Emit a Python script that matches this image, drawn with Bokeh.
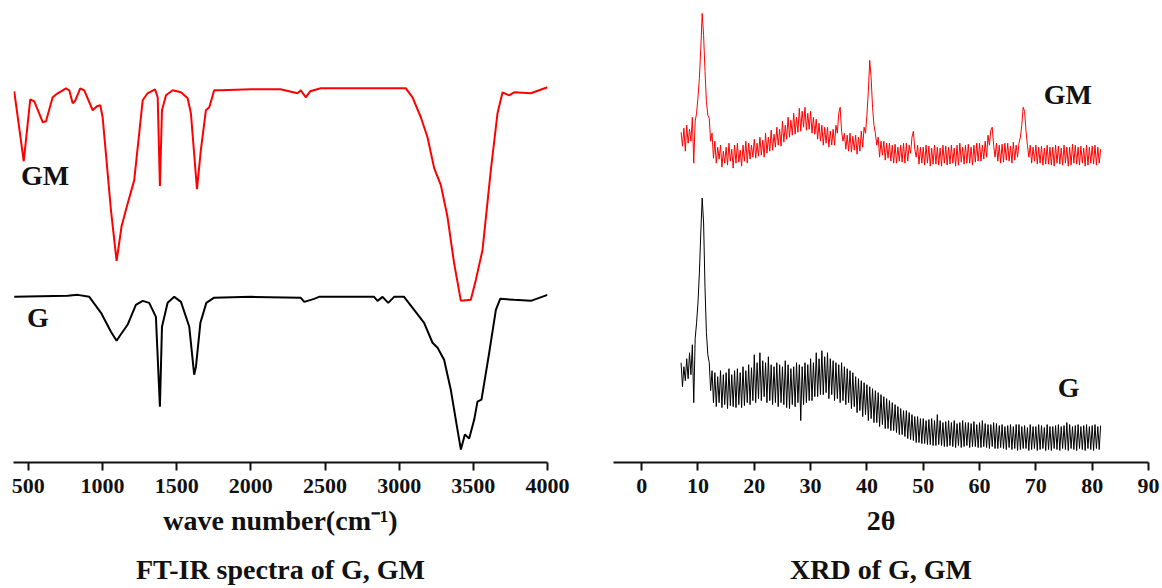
import numpy as np
from bokeh.plotting import figure
from bokeh.layouts import row
from bokeh.models import Range1d, Label, FixedTicker
from bokeh.embed import file_html
from bokeh.resources import INLINE

# ---------------- data ----------------
FTIR_TICKS = [500, 1000, 1500, 2000, 2500, 3000, 3500, 4000]
XRD_TICKS = [0, 10, 20, 30, 40, 50, 60, 70, 80, 90]

# FT-IR, GM (red), wavenumber (cm-1) and transmittance (a.u.)
FTIR_GM_WN = [405, 469, 513, 540, 597, 619, 664, 698, 754, 776, 799, 814, 850, 877, 934, 963, 985,
              1001, 1057, 1095, 1129, 1165, 1214, 1271, 1304, 1354, 1372, 1387, 1401, 1428, 1473,
              1529, 1574, 1596, 1637, 1663, 1697, 1720, 1753, 1800, 2000, 2200, 2315, 2337, 2370,
              2400, 2472, 2700, 3045, 3090, 3146, 3191, 3236, 3281, 3326, 3370, 3416, 3483, 3517,
              3562, 3618, 3663, 3697, 3741, 3775, 3888, 4000]
FTIR_GM_T = [372, 302, 364, 362, 341, 342, 366, 370, 375, 373, 360, 362, 375, 373, 353, 357, 358,
             346, 253, 202, 237, 257, 283, 363, 370, 374, 366, 277, 353, 368, 373,
             371, 365, 350, 274, 313, 353, 356, 373, 373, 374, 374, 370, 373, 366,
             372, 375, 375, 375, 366, 346, 326, 295, 278, 246, 200, 162, 163, 183,
             213, 293, 350, 371, 368, 371, 370, 376]

# FT-IR, G (black)
FTIR_G_WN = [405, 765, 833, 911, 990, 1057, 1095, 1122, 1169, 1225, 1271, 1315, 1360, 1387, 1401,
             1439, 1484, 1529, 1585, 1618, 1630, 1660, 1700, 1750, 2000, 2337, 2360, 2427, 2460,
             2831, 2854, 2888, 2926, 2966, 3033, 3101, 3168, 3225, 3259, 3303, 3348, 3393, 3416,
             3443, 3472, 3506, 3528, 3555, 3607, 3652, 3681, 3775, 3888, 4000]
FTIR_G_T = [166, 167, 168, 166, 150, 131, 122, 128, 138, 158, 162, 160, 146, 56, 136,
            160, 166, 161, 136, 88, 96, 140, 160, 165, 166, 165, 161, 164, 166,
            166, 162, 166, 160, 166, 166, 153, 140, 120, 115, 103, 73, 33, 13,
            28, 24, 43, 61, 63, 110, 153, 164, 163, 162, 168]

# XRD, sampled every 0.25 degree 2-theta from 7.0 to 81.5 (one row = one degree)
XRD_2THETA = np.round(np.arange(7.0, 81.75, 0.25), 2)
XRD_GM = [
    331, 317, 335, 312,   # 7
    338, 320, 334, 322,   # 8
    346, 300, 342, 350,   # 9
    366, 385, 415, 450,   # 10
    428, 392, 362, 348,   # 11
    345, 322, 330, 305,   # 12
    322, 300, 316, 304,   # 13
    318, 296, 312, 300,   # 14
    316, 298, 320, 302,   # 15
    314, 295, 318, 300,   # 16
    320, 301, 313, 297,   # 17
    318, 302, 322, 300,   # 18
    320, 304, 318, 306,   # 19
    324, 305, 320, 307,   # 20
    326, 308, 323, 306,   # 21
    330, 310, 326, 312,   # 22
    333, 313, 329, 316,   # 23
    336, 318, 334, 317,   # 24
    342, 321, 338, 324,   # 25
    346, 326, 343, 328,   # 26
    350, 329, 346, 331,   # 27
    355, 332, 352, 336,   # 28
    356, 333, 350, 334,   # 29
    352, 330, 346, 329,   # 30
    344, 324, 340, 322,   # 31
    338, 318, 336, 320,   # 32
    336, 316, 332, 318,   # 33
    334, 318, 338, 330,   # 34
    350, 356, 332, 322,   # 35
    330, 314, 328, 312,   # 36
    330, 311, 327, 313,   # 37
    328, 309, 326, 312,   # 38
    332, 316, 336, 330,   # 39
    348, 372, 403, 385,   # 40
    356, 338, 330, 318,   # 41
    326, 306, 322, 308,   # 42
    322, 303, 320, 305,   # 43
    320, 302, 318, 300,   # 44
    319, 300, 316, 302,   # 45
    318, 301, 320, 300,   # 46
    320, 302, 318, 310,   # 47
    326, 332, 314, 306,   # 48
    318, 299, 316, 300,   # 49
    316, 298, 318, 300,   # 50
    317, 297, 315, 299,   # 51
    318, 299, 316, 298,   # 52
    315, 297, 318, 300,   # 53
    317, 298, 316, 299,   # 54
    318, 300, 315, 297,   # 55
    318, 298, 320, 301,   # 56
    316, 299, 318, 300,   # 57
    319, 300, 316, 298,   # 58
    318, 301, 320, 302,   # 59
    320, 302, 318, 304,   # 60
    322, 306, 328, 318,   # 61
    333, 336, 318, 306,   # 62
    320, 302, 318, 300,   # 63
    319, 301, 320, 303,   # 64
    320, 302, 317, 300,   # 65
    321, 303, 318, 306,   # 66
    320, 326, 338, 356,   # 67
    352, 332, 318, 306,   # 68
    318, 300, 316, 302,   # 69
    318, 299, 316, 300,   # 70
    317, 298, 315, 299,   # 71
    318, 299, 316, 298,   # 72
    316, 297, 318, 300,   # 73
    317, 299, 315, 298,   # 74
    318, 300, 316, 297,   # 75
    316, 298, 319, 300,   # 76
    318, 299, 316, 298,   # 77
    317, 300, 315, 297,   # 78
    318, 298, 316, 300,   # 79
    317, 299, 318, 298,   # 80
    316, 300, 314,        # 81
]
XRD_G = [
    100, 76, 96, 82,      # 7
    104, 84, 110, 88,     # 8
    118, 60, 124, 140,    # 9
    160, 190, 230, 265,   # 10
    240, 175, 130, 108,   # 11
    100, 72, 92, 60,      # 12
    90, 56, 86, 60,       # 13
    92, 55, 88, 58,       # 14
    90, 54, 94, 57,       # 15
    88, 56, 92, 55,       # 16
    94, 58, 90, 55,       # 17
    96, 57, 92, 60,       # 18
    98, 58, 95, 62,       # 19
    108, 60, 100, 64,     # 20
    110, 62, 102, 66,     # 21
    100, 60, 106, 62,     # 22
    98, 58, 96, 60,       # 23
    100, 56, 98, 60,      # 24
    96, 58, 102, 55,      # 25
    98, 54, 94, 58,       # 26
    96, 56, 100, 60,      # 27
    98, 42, 96, 58,       # 28
    100, 60, 98, 62,      # 29
    104, 62, 100, 66,     # 30
    110, 66, 104, 68,     # 31
    112, 68, 106, 70,     # 32
    110, 64, 104, 68,     # 33
    102, 62, 100, 64,     # 34
    98, 60, 100, 62,      # 35
    96, 58, 94, 60,       # 36
    92, 54, 90, 56,       # 37
    86, 50, 84, 52,       # 38
    82, 46, 80, 48,       # 39
    78, 42, 76, 44,       # 40
    74, 40, 72, 40,       # 41
    70, 36, 68, 38,       # 42
    66, 34, 64, 34,       # 43
    62, 32, 60, 32,       # 44
    58, 30, 56, 28,       # 45
    54, 28, 52, 26,       # 46
    52, 24, 50, 23,       # 47
    48, 22, 46, 20,       # 48
    46, 20, 44, 19,       # 49
    44, 19, 42, 18,       # 50
    43, 18, 44, 17,       # 51
    42, 17, 48, 18,       # 52
    42, 17, 40, 16,       # 53
    41, 16, 42, 17,       # 54
    40, 16, 42, 15,       # 55
    39, 17, 40, 15,       # 56
    42, 16, 40, 17,       # 57
    40, 15, 39, 16,       # 58
    41, 16, 38, 15,       # 59
    40, 15, 42, 16,       # 60
    39, 15, 38, 14,       # 61
    38, 16, 40, 14,       # 62
    39, 14, 37, 15,       # 63
    38, 14, 36, 13,       # 64
    37, 15, 38, 13,       # 65
    36, 14, 38, 12,       # 66
    38, 13, 36, 14,       # 67
    37, 14, 35, 12,       # 68
    38, 13, 36, 14,       # 69
    36, 12, 38, 13,       # 70
    37, 14, 35, 12,       # 71
    38, 13, 36, 12,       # 72
    36, 14, 37, 13,       # 73
    38, 12, 36, 14,       # 74
    37, 13, 40, 12,       # 75
    38, 14, 36, 13,       # 76
    37, 12, 38, 14,       # 77
    36, 13, 37, 12,       # 78
    38, 14, 36, 13,       # 79
    37, 12, 38, 14,       # 80
    36, 13, 37,           # 81
]

FONT = "Liberation Serif"
INK = "#111111"


def style_axis(ax, ticks, label):
    ax.ticker = FixedTicker(ticks=ticks)
    ax.axis_label = label
    ax.axis_line_width = 2
    ax.axis_line_color = INK
    ax.major_tick_line_width = 2
    ax.major_tick_line_color = INK
    ax.major_tick_out = 8
    ax.major_tick_in = 0
    ax.minor_tick_out = 0
    ax.minor_tick_in = 0
    ax.major_label_text_font = FONT
    ax.major_label_text_font_style = "bold"
    ax.major_label_text_font_size = "22px"
    ax.major_label_text_color = INK
    ax.major_label_standoff = 8
    ax.axis_label_text_font = FONT
    ax.axis_label_text_font_style = "bold"
    ax.axis_label_text_font_size = "28px"
    ax.axis_label_text_color = INK
    ax.axis_label_text_line_height = 1.6
    ax.axis_label_standoff = 9


def make_fig(width, x_range, y_range, left, right):
    p = figure(width=width, height=588, x_range=x_range, y_range=y_range,
               output_backend="svg", toolbar_location=None, y_axis_location=None,
               min_border_left=left, min_border_right=right, min_border_top=0,
               min_border_bottom=125)
    p.outline_line_color = None
    p.xgrid.visible = False
    p.ygrid.visible = False
    p.background_fill_color = "white"
    p.border_fill_color = "white"
    return p


def text_label(x, y, text, size="28px", align="left"):
    return Label(x=x, y=y, text=text, text_font=FONT, text_font_style="bold",
                 text_font_size=size, text_color=INK, text_align=align)


# ---------------- FT-IR panel ----------------
p1 = make_fig(590, Range1d(400, 4000), Range1d(0, 463), 13, 43)
p1.line(FTIR_GM_WN, FTIR_GM_T, line_color="#ff0000", line_width=2)
p1.line(FTIR_G_WN, FTIR_G_T, line_color="#000000", line_width=2)
style_axis(p1.xaxis[0], FTIR_TICKS, "wave number(cm\u207b\u00b9)\nFT-IR spectra of G, GM")
p1.add_layout(text_label(450, 272, "GM"))
p1.add_layout(text_label(491, 130, "G"))

# ---------------- XRD panel ----------------
p2 = make_fig(572, Range1d(-5, 90), Range1d(0, 463), 23, 14)
p2.line(XRD_2THETA, XRD_GM, line_color="#ff0000", line_width=1)
p2.line(XRD_2THETA, XRD_G, line_color="#000000", line_width=1)
style_axis(p2.xaxis[0], XRD_TICKS, "2\u03b8\nXRD of G, GM")
p2.add_layout(text_label(71.4, 353, "GM"))
p2.add_layout(text_label(73.9, 60, "G"))

layout = row(p1, p2)
open("out.html", "w").write(file_html(layout, INLINE))
